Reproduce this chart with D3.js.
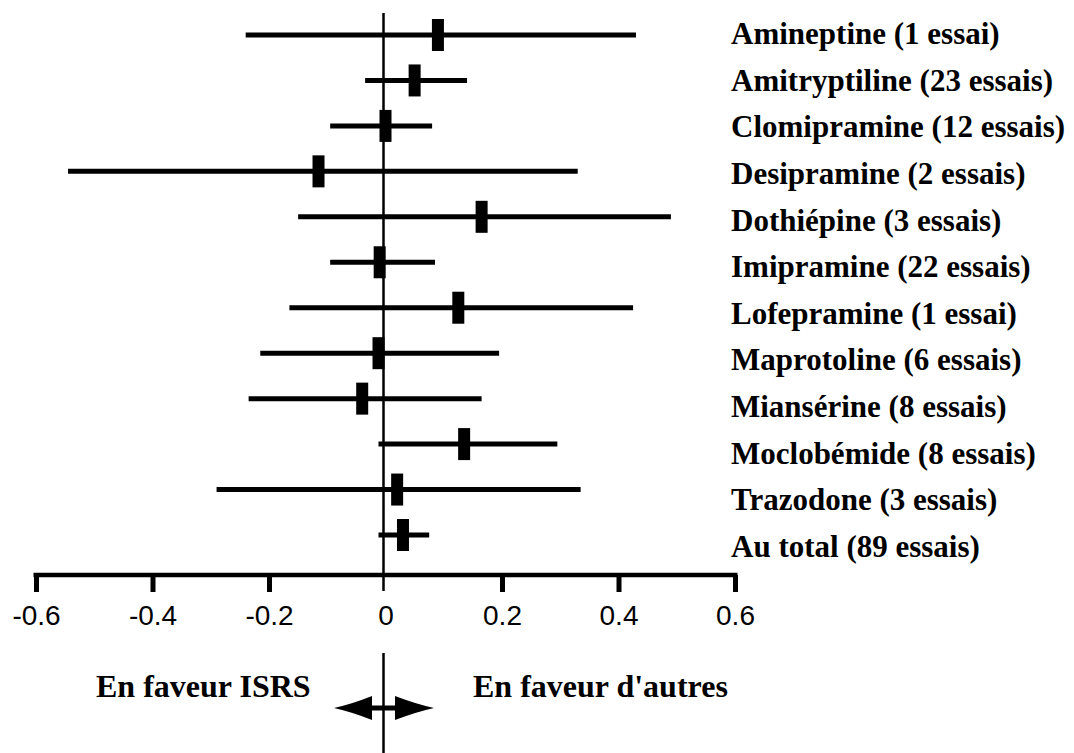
<!DOCTYPE html>
<html><head><meta charset="utf-8">
<script src="https://cdn.jsdelivr.net/npm/d3@7"></script>
</head><body style="margin:0">
<div style="position:absolute;left:0;top:0;opacity:0;font-size:2px;color:#fff;pointer-events:none" aria-hidden="true"><span style="font-family:'DejaVu Serif'">a</span><span style="font-family:'Noto Serif'">a</span><span style="font-family:FreeSerif">a</span><span style="font-family:'Liberation Serif';font-weight:bold">a</span></div>
<svg id="c" width="1074" height="753"></svg>
<script>
const drugs = ["Amineptine","Amitryptiline","Clomipramine","Desipramine","Dothiépine","Imipramine","Lofepramine","Maprotoline","Miansérine","Moclobémide","Trazodone","Au total"];
const trials = [1,23,12,2,3,22,1,6,8,8,3,89];
const estimate = [0.09,0.05,0.0,-0.115,0.165,-0.01,0.125,-0.012,-0.04,0.135,0.02,0.03];
const lower = [-0.24,-0.035,-0.095,-0.545,-0.15,-0.095,-0.165,-0.215,-0.235,-0.012,-0.29,-0.012];
const upper = [0.43,0.14,0.08,0.33,0.49,0.085,0.425,0.195,0.165,0.295,0.335,0.075];
const ticks = [-0.6,-0.4,-0.2,0,0.2,0.4,0.6];
const sideLabels = ["En faveur ISRS","En faveur d'autres"];

const SERIF = "Liberation Serif";
const SANS = "Liberation Sans";
const svg = d3.select("#c");
const x = d3.scaleLinear().domain([-0.6,0.6]).range([36,735]);
const yBar = d3.scalePoint().domain(drugs).range([35,535]);
const yLab = d3.scalePoint().domain(drugs).range([44,557]);
const axisY = 575;
const data = drugs.map((d,i)=>({name:d,n:trials[i],est:estimate[i],lo:lower[i],hi:upper[i]}));

svg.append("line").attr("x1",x(0)-2).attr("x2",x(0)-2).attr("y1",13).attr("y2",591)
  .attr("stroke","#000").attr("stroke-width",2.5);
svg.selectAll("line.ci").data(data).enter().append("line").attr("class","ci")
  .attr("x1",d=>x(d.lo)).attr("x2",d=>x(d.hi)).attr("y1",d=>yBar(d.name)).attr("y2",d=>yBar(d.name))
  .attr("stroke","#000").attr("stroke-width",5);
svg.selectAll("rect.pt").data(data).enter().append("rect").attr("class","pt")
  .attr("x",d=>x(d.est)-6).attr("width",12)
  .attr("y",d=>yBar(d.name)-16).attr("height",32).attr("fill","#000");

const labs = svg.selectAll("text.lab").data(data).enter().append("text").attr("class","lab serif")
  .attr("x",731).attr("y",d=>yLab(d.name))
  .style("font-family",SERIF).style("font-weight","bold").style("font-size","31px")
  .text(d=>`${d.name} (${d.n} essai${d.n>1?"s":""})`);

const axis = d3.axisBottom(x).tickValues(ticks).tickSize(17).tickSizeOuter(0)
  .tickFormat(d=>d===0?"0":d.toFixed(1));
const g = svg.append("g").attr("transform",`translate(0,${axisY})`).call(axis);
g.attr("font-family",SANS).attr("font-size",28);
g.select(".domain").attr("stroke","#000").attr("stroke-width",4.5).attr("d",`M${x(-0.6)-2.5},0H${x(0.6)+2.5}`);
g.selectAll(".tick line").attr("stroke","#000").attr("stroke-width",d=>d===0?0:5);
g.selectAll(".tick text").attr("fill","#000").attr("y",30).attr("dy","0.71em");

const cx = x(0)-2, ay = 708;
svg.append("line").attr("x1",cx).attr("x2",cx).attr("y1",653).attr("y2",753).attr("stroke","#000").attr("stroke-width",2.5);
svg.append("line").attr("x1",368).attr("x2",398).attr("y1",ay).attr("y2",ay).attr("stroke","#000").attr("stroke-width",5);
svg.append("path").attr("d",`M334,${ay} Q352,${ay-4} 372,${ay-12} L372,${ay+12} Q352,${ay+4} 334,${ay}Z`).attr("fill","#000");
svg.append("path").attr("d",`M434,${ay} Q416,${ay-4} 395,${ay-12} L395,${ay+12} Q416,${ay+4} 434,${ay}Z`).attr("fill","#000");
sideLabels.forEach((t,i)=>{
  svg.append("text").attr("class","serif").attr("x",i?473:96).attr("y",697)
    .style("font-family",SERIF).style("font-weight","bold").style("font-size","32px").text(t);
});

// re-apply serif family once fonts are resolved, to force a relayout
if (document.fonts && document.fonts.load) {
  Promise.all([document.fonts.load('bold 31px "Liberation Serif"'), document.fonts.ready]).then(()=>{
    svg.selectAll("text.serif").style("font-family","Liberation Serif, serif");
  });
}
</script>
</body></html>
